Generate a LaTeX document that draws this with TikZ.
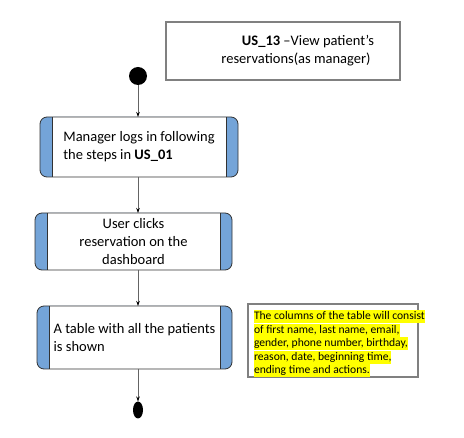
\documentclass[tikz,border=0pt]{standalone}
\usepackage{fontspec}
\setmainfont{Carlito}
\usetikzlibrary{positioning,arrows.meta,shapes.geometric}
\definecolor{barcolor}{RGB}{116,164,216}
\definecolor{edgecolor}{RGB}{50,50,50}
\definecolor{linecolor}{RGB}{100,100,100}
\definecolor{markcolor}{RGB}{255,255,0}
\newlength\barwidth
\setlength\barwidth{12pt}

\begin{document}
\begin{tikzpicture}[x=1pt,y=-1pt,outer sep=0pt,
stepbox/.style={
  draw=edgecolor,
  line width=0.8pt,
  fill=barcolor,
  rounded corners=7pt,
  align=left,
  font=\fontsize{14.5}{18}\selectfont,
  path picture={
    \fill[white,sharp corners]([xshift=\barwidth]path picture bounding box.south west)
      rectangle ([xshift=-\barwidth]path picture bounding box.north east);
    \draw[edgecolor,line width=0.8pt,sharp corners]([xshift=\barwidth]path picture bounding box.south west)
      -- ([xshift=\barwidth]path picture bounding box.north west);
    \draw[edgecolor,line width=0.8pt,sharp corners]([xshift=-\barwidth]path picture bounding box.south east)
      -- ([xshift=-\barwidth]path picture bounding box.north east);
  }},
titlebox/.style={
  draw=gray,
  line width=1.2pt,
  minimum width=234pt,
  minimum height=58pt,
  align=center,
  font=\fontsize{14.5}{18}\selectfont},
notebox/.style={
  draw=gray,
  line width=1.2pt,
  minimum width=170pt,
  minimum height=73pt},
noteline/.style={
  fill=markcolor,
  inner sep=0pt,
  anchor=west,
  text height=9.5pt,
  text depth=3.5pt,
  font=\fontsize{11.6}{13.5}\selectfont},
flow/.style={
  draw=linecolor,
  line width=0.8pt,
  -{Stealth[length=5pt,width=3.5pt,black]}},
]
\useasboundingbox (0,0) rectangle (464,438);

\node[titlebox] (TITLE) at (283,51) {\hspace*{50pt}\textbf{US\_13} –View patient’s\\\hspace*{26pt}reservations(as manager)};
\node[circle,fill=black,minimum size=18pt,inner sep=0pt] (START) at (138,76) {};

\node[stepbox,minimum width=198pt,minimum height=60pt] (LOGIN) at (139,147)
  {Manager logs in following\\the steps in \textbf{US\_01}};
\node[stepbox,minimum width=197pt,minimum height=57pt,align=center] (CLICK) at (133.5,241.5)
  {User clicks\\reservation on the\\dashboard};
\node[stepbox,minimum width=195pt,minimum height=63pt] (TABLE) at (134.5,337.5)
  {A table with all the patients\\is shown};

\node[notebox] (NOTE) at (333,340.5) {};
\foreach \ln [count=\i] in {{The columns of the table will consist},
  {of first name, last name, email,},
  {gender, phone number, birthday,},
  {reason, date, beginning time,},
  {ending time and actions.}}
  \node[noteline] (NOTE\i) at (254,303.5+13.5*\i) {\ln};

\node[ellipse,fill=black,minimum width=10pt,minimum height=17pt,inner sep=0pt] (STOP) at (138,410) {};

\draw[flow] (START) -- (START |- LOGIN.north);
\draw[flow] (START |- LOGIN.south) -- (START |- CLICK.north);
\draw[flow] (START |- CLICK.south) -- (START |- TABLE.north);
\draw[flow] (START |- TABLE.south) -- (STOP);
\end{tikzpicture}
\end{document}
